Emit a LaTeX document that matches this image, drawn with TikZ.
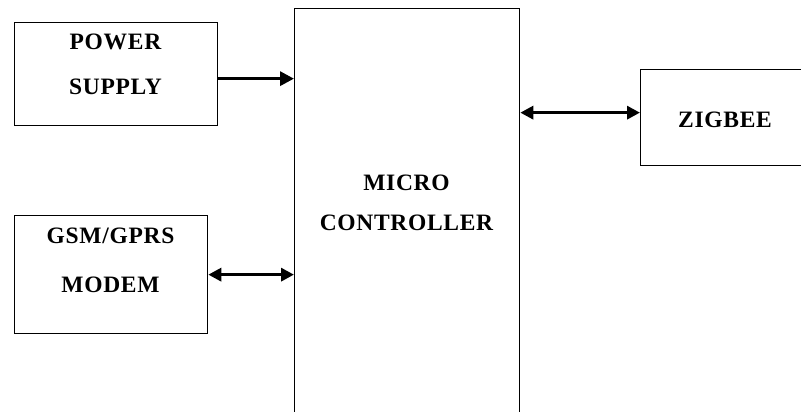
\documentclass[tikz,border=0pt]{standalone}
\usepackage{fontspec}
\setmainfont{Liberation Serif}
\usetikzlibrary{arrows.meta,calc}

\begin{document}
\begin{tikzpicture}[x=1pt,y=-1pt,
    block/.style={draw,line width=1.3pt,inner sep=0pt,anchor=north west},
    word/.style={anchor=base,inner sep=0pt,
      font=\fontsize{23.5}{27}\selectfont\bfseries\addfontfeature{LetterSpace=3}},
    arr/.style={line width=3.2pt,-{Triangle[length=14pt,width=14pt]}},
    darr/.style={line width=3.2pt,{Triangle[length=13pt,width=13pt]}-{Triangle[length=13pt,width=13pt]}}]

          \clip (0,0) rectangle (801,412);

          \node[block,minimum width=203pt,minimum height=103pt] (psu)   at (14,22)  {};
          \node[block,minimum width=193pt,minimum height=118pt] (gsm)   at (14,215) {};
          \node[block,minimum width=225pt,minimum height=430pt] (micro) at (294,8)  {};
          \node[block,minimum width=170pt,minimum height=96pt]  (zig)   at (640,69) {};

          \node[word] (psu-1)   at (115.5,50)  {POWER};
          \node[word] (psu-2)   at (115.5,95)  {SUPPLY};
          \node[word] (gsm-1)   at (110.5,243) {GSM/GPRS};
          \node[word] (gsm-2)   at (110.5,292) {MODEM};
          \node[word] (micro-1) at (406.5,190) {MICRO};
          \node[word] (micro-2) at (406.5,230) {CONTROLLER};
          \node[word] (zig-1)   at (725,128)   {ZIGBEE};

          \draw[arr]  ([yshift=-4.5pt]psu.east) -- ([yshift=-4.5pt]psu.east -| micro.west);
          \draw[darr] (gsm.east) -- (gsm.east -| micro.west);
          \draw[darr] ([yshift=5pt]zig.west -| micro.east) -- ([yshift=5pt]zig.west);
        \end{tikzpicture}
\end{document}
